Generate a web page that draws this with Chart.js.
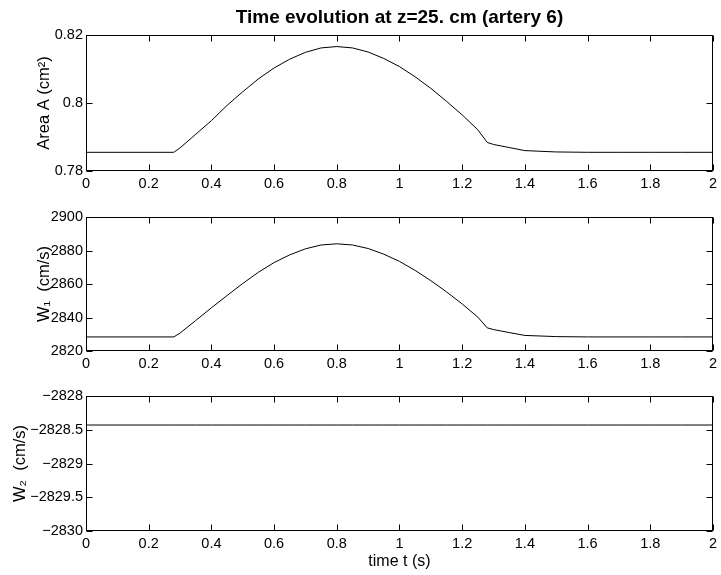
<!DOCTYPE html>
<html><head><meta charset="utf-8">
<script src="https://cdn.jsdelivr.net/npm/chart.js@4/dist/chart.umd.min.js"></script>
<style>
html,body{margin:0;padding:0;background:#fff;}
#wrap{position:relative;width:721px;height:575px;background:#fff;overflow:hidden;}
canvas{position:absolute;left:0;}
</style></head><body>
<div id="wrap">
<canvas id="c1" width="721" height="200" style="top:0px"></canvas>
<canvas id="c2" width="721" height="180" style="top:200px"></canvas>
<canvas id="c3" width="721" height="195" style="top:380px"></canvas>
</div>
<script>
// ---- data ----
const titleText = 'Time evolution at z=25. cm (artery 6)';
const timeS = [0,0.28,0.3,0.35,0.4,0.45,0.5,0.55,0.6,0.65,0.7,0.75,0.8,0.85,0.9,0.95,1.0,1.05,1.1,1.15,1.2,1.25,1.28,1.3,1.35,1.4,1.5,1.6,1.7,1.8,1.9,2.0];
const areaA = [0.7855,0.7855,0.7868,0.7908,0.7948,0.7993,0.8033,0.8071,0.8103,0.8129,0.8149,0.8162,0.8166,0.8162,0.8150,0.8131,0.8107,0.8077,0.8043,0.8005,0.7965,0.7921,0.7884,0.7878,0.7869,0.7860,0.7856,0.7855,0.7855,0.7855,0.7855,0.7855];
const w1 = [2828.4,2828.4,2830.7,2838.2,2845.8,2853.1,2860.3,2867.0,2872.8,2877.4,2881.0,2883.3,2884.0,2883.3,2881.2,2877.8,2873.5,2868.1,2862.0,2855.3,2848.1,2840.2,2833.8,2832.8,2831.0,2829.3,2828.6,2828.4,2828.4,2828.4,2828.4,2828.4];
const w2 = [-2828.43,-2828.43,-2828.43,-2828.43,-2828.43,-2828.43,-2828.43,-2828.43,-2828.43,-2828.43,-2828.43,-2828.43,-2828.43,-2828.43,-2828.43,-2828.43,-2828.43,-2828.43,-2828.43,-2828.43,-2828.43,-2828.43,-2828.43,-2828.43,-2828.43,-2828.43,-2828.43,-2828.43,-2828.43,-2828.43,-2828.43,-2828.43];
const xTicks = [0,0.2,0.4,0.6,0.8,1,1.2,1.4,1.6,1.8,2];
const yTicksA = [0.78,0.8,0.82];
const yTicksW1 = [2820,2840,2860,2880,2900];
const yTicksW2 = [-2830,-2829.5,-2829,-2828.5,-2828];
const yTitles = ['Area A (cm\u00B2)', 'W\u2081  (cm/s)', 'W\u2082  (cm/s)'];
const xTitle = 'time t (s)';

Chart.defaults.font.family = "'Liberation Sans', Arial, Helvetica, sans-serif";
Chart.defaults.color = '#000';

const boxPlugin = {
  id: 'box',
  afterDatasetsDraw(chart) {
    const {ctx, chartArea: a, scales: {x, y}} = chart;
    ctx.save();
    ctx.strokeStyle = '#000';
    ctx.lineWidth = 1;
    const L = Math.round(a.left) + 0.5, R = Math.round(a.right) - 0.5;
    const T = Math.round(a.top) + 0.5, B = Math.round(a.bottom) - 0.5;
    ctx.strokeRect(L, T, R - L, B - T);
    ctx.beginPath();
    const tl = 6;
    x.ticks.forEach(t => {
      const px = Math.round(x.getPixelForValue(t.value)) + 0.5;
      ctx.moveTo(px, B); ctx.lineTo(px, B - tl);
      ctx.moveTo(px, T); ctx.lineTo(px, T + tl);
    });
    y.ticks.forEach(t => {
      const py = Math.round(y.getPixelForValue(t.value)) + 0.5;
      ctx.moveTo(L, py); ctx.lineTo(L + tl, py);
      ctx.moveTo(R, py); ctx.lineTo(R - tl, py);
    });
    ctx.stroke();
    ctx.restore();
  }
};

function fmt(v) {
  const r = Math.round(v * 1000) / 1000;
  return (r < 0 ? '\u2212' : '') + String(Math.abs(r));
}

function makeChart(id, values, yTicks, yTitle, opts) {
  const fixedTicks = (list) => function (scale) { scale.ticks = list.map(v => ({value: v})); };
  return new Chart(document.getElementById(id), {
    type: 'line',
    data: {
      datasets: [{
        data: timeS.map((t, i) => ({x: t, y: values[i]})),
        borderColor: '#000', borderWidth: 1, pointRadius: 0, tension: 0, fill: false
      }]
    },
    options: {
      responsive: false, animation: false, devicePixelRatio: 1,
      layout: {padding: {left: 0, right: 7, top: opts.padTop, bottom: 0}},
      plugins: {
        legend: {display: false}, tooltip: {enabled: false},
        title: opts.title ? {
          display: true, text: opts.title, fullSize: false, color: '#000',
          font: {size: 19, weight: 'bold'}, padding: {top: 6.6, bottom: 5.6}
        } : {display: false}
      },
      scales: {
        x: {
          type: 'linear', min: 0, max: 2,
          afterBuildTicks: fixedTicks(xTicks),
          ticks: {padding: 4, color: '#000', font: {size: 14.5}, maxRotation: 0, autoSkip: false, callback: v => fmt(v)},
          grid: {display: false, drawTicks: false},
          border: {display: false},
          title: opts.xTitle ? {display: true, text: opts.xTitle, color: '#000', font: {size: 16}, padding: {top: 0, bottom: 4}} : {display: false},
          afterFit(s) { s.height = opts.xh; }
        },
        y: {
          type: 'linear', min: yTicks[0], max: yTicks[yTicks.length - 1],
          afterBuildTicks: fixedTicks(yTicks),
          ticks: {padding: 3, color: '#000', font: {size: 14.5}, autoSkip: false, callback: v => fmt(v)},
          grid: {display: false, drawTicks: false},
          border: {display: false},
          title: {display: true, text: yTitle, color: '#000', font: {size: 16.5}, padding: {top: opts.yTitlePad, bottom: 0}},
          afterFit(s) { s.width = 86; }
        }
      }
    },
    plugins: [boxPlugin]
  });
}

makeChart('c1', areaA, yTicksA, yTitles[0], {padTop: 0, title: titleText, xh: 29, yTitlePad: 35});
makeChart('c2', w1, yTicksW1, yTitles[1], {padTop: 17, xh: 29, yTitlePad: 35});
makeChart('c3', w2, yTicksW2, yTitles[2], {padTop: 16, xh: 44, xTitle: xTitle, yTitlePad: 11});
</script>
</body></html>
